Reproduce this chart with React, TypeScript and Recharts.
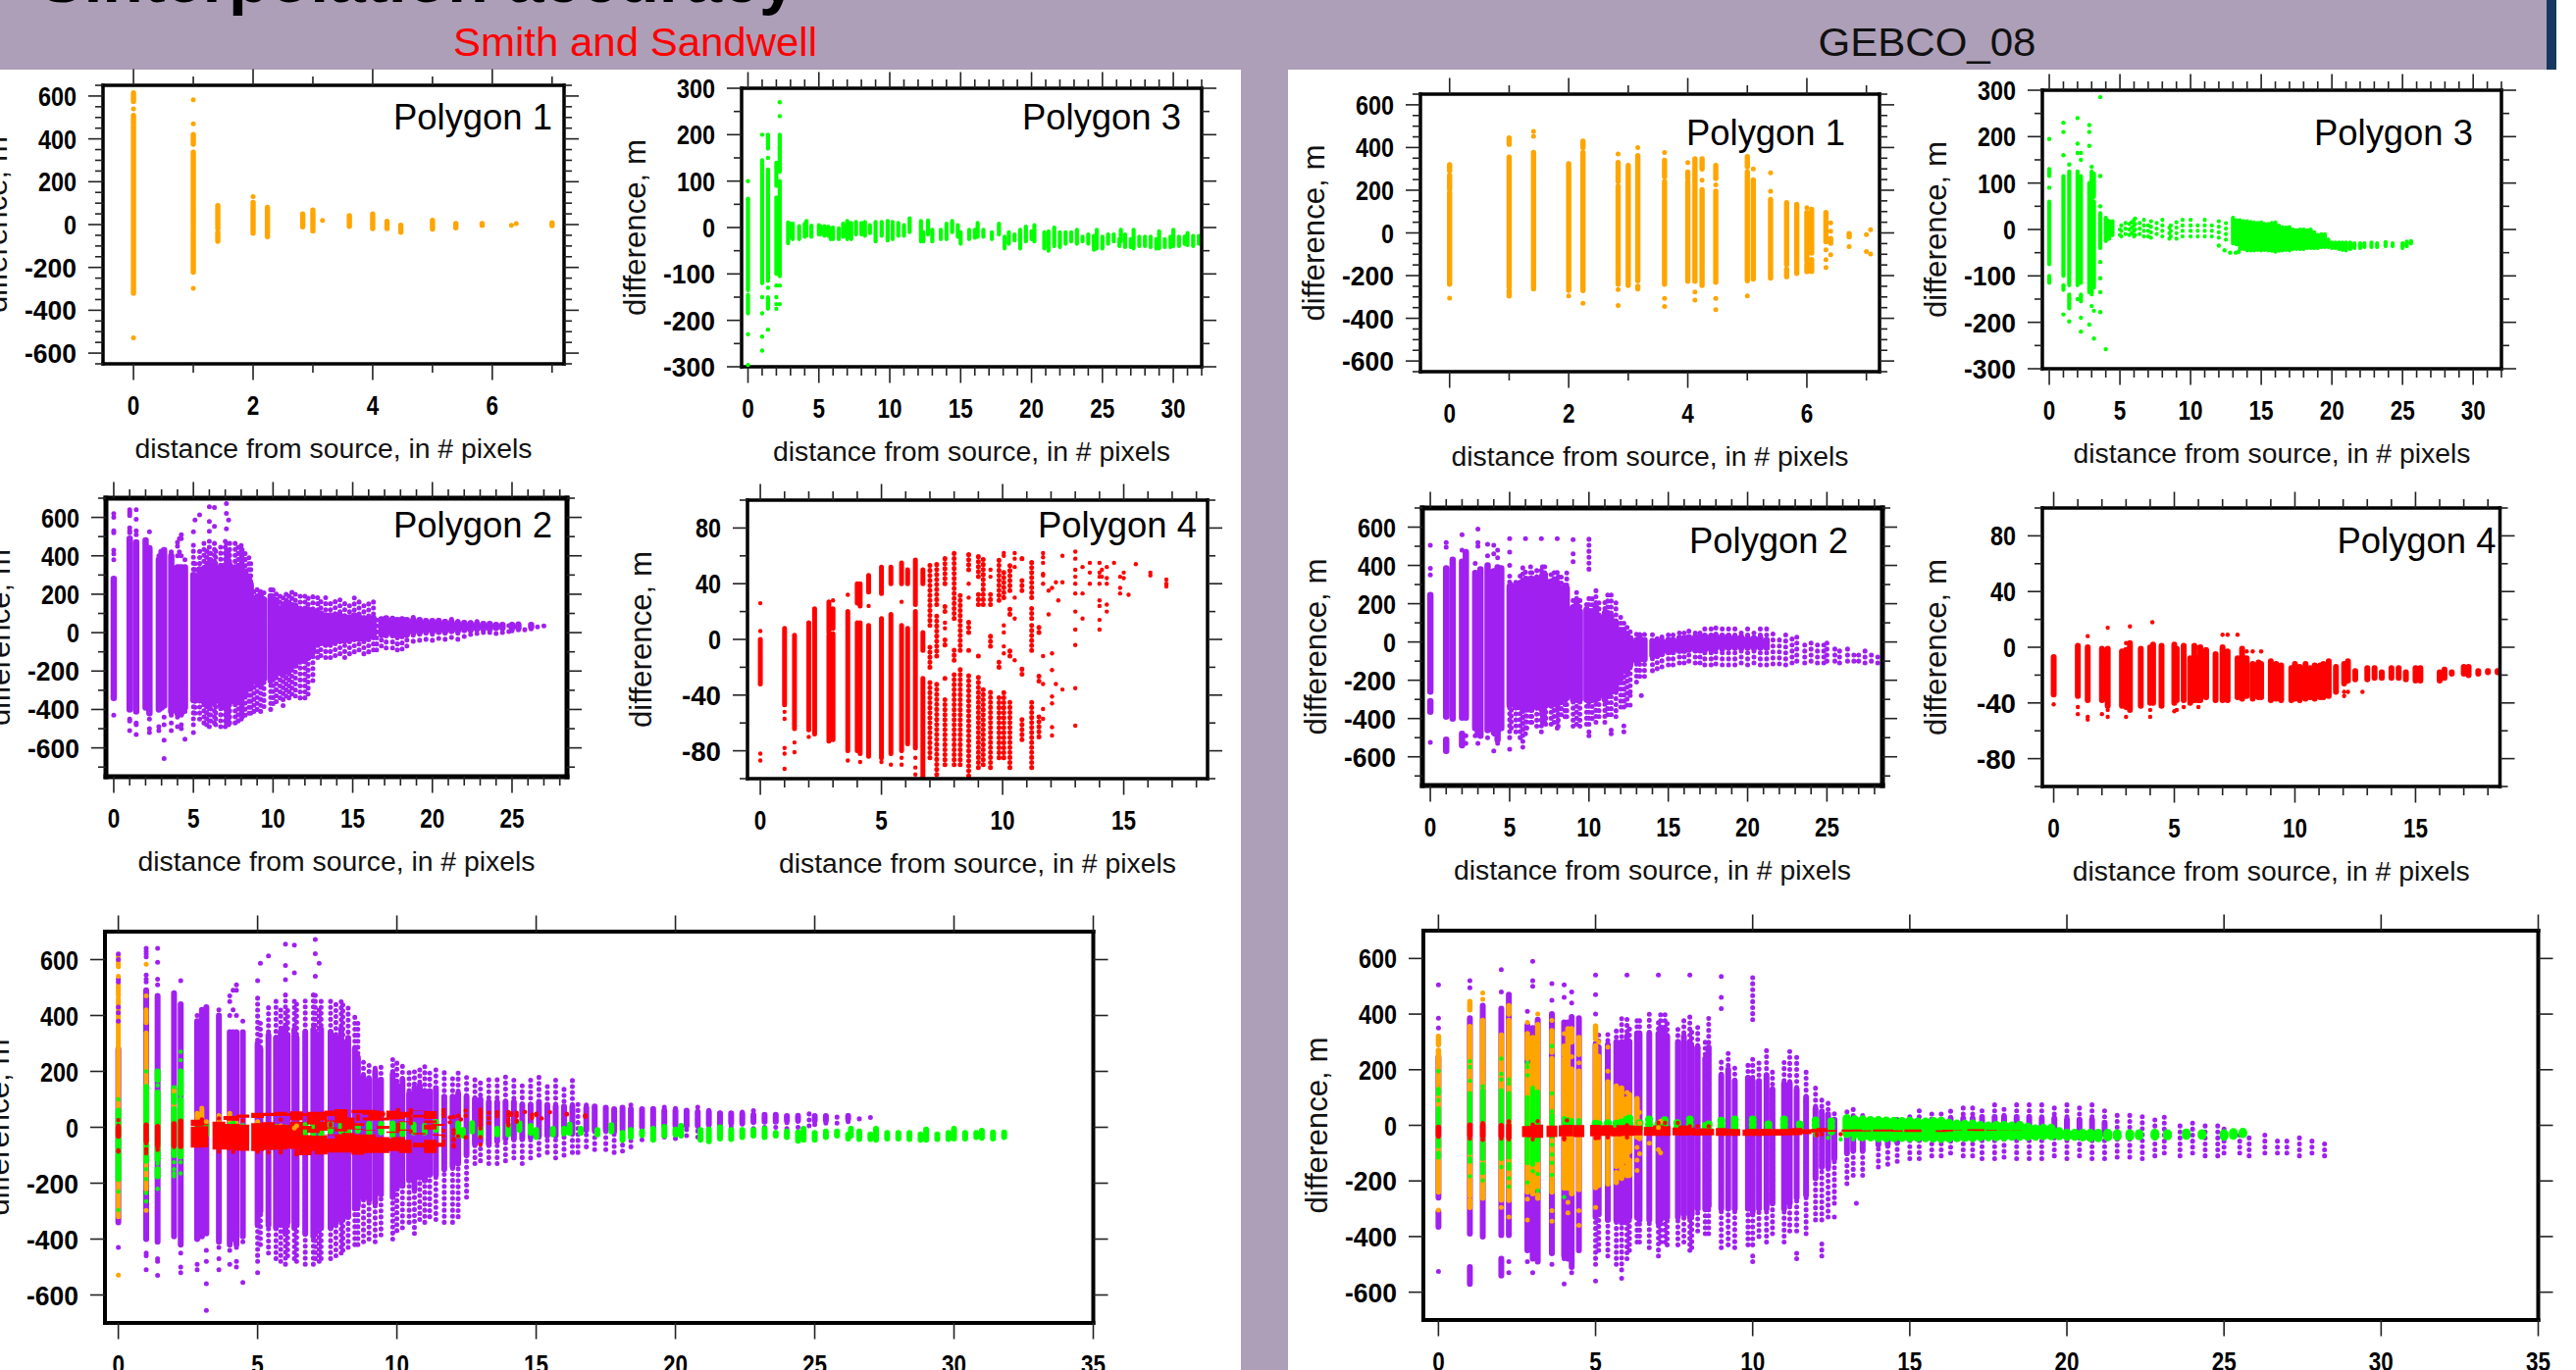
import React from 'react';
import { ComposedChart, Line, Scatter, XAxis, YAxis } from 'recharts';

type Stripe = [number, number, number];
type Pts = [number, number[]];

const PURPLE = '#A020F0', ORANGE = '#FFA500', GREEN = '#00FF00', RED = '#FF0000';
const FONT = '"Liberation Sans", Arial, sans-serif';

const xTicks7 = [0, 1, 2, 3, 4, 5, 6, 7];
const xTicks18 = [0, 1, 2, 3, 4, 5, 6, 7, 8, 9, 10, 11, 12, 13, 14, 15, 16, 17, 18];
const xTicks28 = [0, 1, 2, 3, 4, 5, 6, 7, 8, 9, 10, 11, 12, 13, 14, 15, 16, 17, 18, 19, 20, 21, 22, 23, 24, 25, 26, 27, 28];
const xTicks32 = [0, 1, 2, 3, 4, 5, 6, 7, 8, 9, 10, 11, 12, 13, 14, 15, 16, 17, 18, 19, 20, 21, 22, 23, 24, 25, 26, 27, 28, 29, 30, 31, 32];
const xTicks35 = [0, 5, 10, 15, 20, 25, 30, 35];
const yTicks650 = [-650, -600, -550, -500, -450, -400, -350, -300, -250, -200, -150, -100, -50, 0, 50, 100, 150, 200, 250, 300, 350, 400, 450, 500, 550, 600, 650];
const yTicks300 = [-300, -250, -200, -150, -100, -50, 0, 50, 100, 150, 200, 250, 300];
const yTicks700 = [-700, -600, -500, -400, -300, -200, -100, 0, 100, 200, 300, 400, 500, 600, 700];
const yTicks100 = [-100, -80, -60, -40, -20, 0, 20, 40, 60, 80, 100];
const yTicksBig = [-600, -400, -200, 0, 200, 400, 600];

// ---- Smith and Sandwell ----
const ssP1Stripes: Stripe[] = [
  [0, -320, 460], [0, 470, 510], [0, 575, 615], [1, -222, 338], [1, 375, 420], [1.41, -18, 88], [1.41, -78, -36],
  [2, -40, 103], [2.24, -56, 80], [2.83, -10, 50], [3, -30, 68], [3.61, -8, 42], [4, -18, 50], [4.24, -18, 15],
  [4.47, -36, -3], [5, -21, 20], [5.39, -15, 5], [5.83, -3, 5], [7, -5, 8],
];
const ssP1Pts: Pts[] = [[0, [-529, 540]], [1, [583, 470, -297]], [2, [130]], [3.16, [20]], [6.32, [-3]], [6.4, [5]]];

const ssP3Stripes: Stripe[] = [
  [0, -135, 60], [0, -185, -145], [1, -120, 145], [1.41, -115, 125], [1.41, -175, -150], [1.41, 170, 200], [2, -100, 65], [2, 90, 140], [2.24, -105, 100], [2.24, 120, 200],
  [2.83, -34, 11], [3, -20, 8], [3.16, -25, 8], [3.61, -25, 3], [4, -20, 8], [4.12, -18, 14], [4.47, -20, 4], [5, -15, 5], [5.1, -15, 3], [5.39, -18, 3], [5.66, -18, 2],
  [5.83, -25, -2], [6, -25, 0], [6.4, -25, -2], [6.71, -20, 8], [7, -25, 14], [7.28, -25, 10], [7.62, -15, 12], [8, -15, 10], [8.25, -18, 12], [8.6, -12, 5],
  [9, -30, 12], [9.43, -18, 12], [9.85, -28, 14], [10.2, -25, 12], [10.6, -18, 10], [11, -18, 5], [11.4, -10, 20], [12.2, -30, 14], [12.37, -30, -10], [12.7, -15, 15],
  [13, -30, -5], [13.6, -25, -5], [14, -25, 8], [14.4, -10, 14], [14.8, -20, 5], [15, -35, -10], [15.6, -25, -5], [16, -22, -5], [16.2, -20, 10], [16.6, -20, -5],
  [17.2, -25, -10], [17.7, -15, 8], [18.1, -45, -20], [18.4, -35, -10], [18.8, -28, -15], [19.2, -45, -5], [19.6, -30, 2], [20, -25, -8], [20.2, -30, 5], [20.9, -45, -10],
  [21.2, -50, -8], [21.6, -40, 0], [22, -42, -10], [22.4, -35, -10], [22.8, -30, -10], [23.2, -35, -5], [23.6, -30, -20], [24, -35, -15], [24.4, -48, -18], [24.6, -45, -5],
  [25, -45, -20], [25.4, -35, -15], [25.8, -30, -15], [26.2, -40, -25], [26.3, -30, -5], [26.6, -42, -15], [27, -42, -25], [27.2, -45, -5], [27.6, -40, -20], [28, -40, -20],
  [28.4, -42, -20], [28.8, -45, -25], [29, -45, -8], [29.4, -42, -25], [29.8, -42, -20], [30, -40, -5], [30.4, -40, -20], [30.8, -35, -20], [31, -38, -12], [31.4, -40, -18], [31.8, -35, -18],
];
const ssP3Pts: Pts[] = [
  [0, [100, 62, -230, -296]], [1, [200, -150, -185, -235, -265]], [1.41, [150, -130, -220]], [2, [-125, -150, -175, -165]], [2.24, [240, 270, -125, -165]],
];

const ssP2Stripes: Stripe[] = [
  [0, -340, 280], [1, -400, 490], [1.41, -410, 470], [2, -390, 480], [2.24, -420, 440], [2.83, -400, 380], [3, -390, 420], [3.16, -380, 430], [3.61, -410, 400],
  [4, -420, 340], [4.12, -400, 340], [4.24, -420, 340], [4.47, -390, 340], [5, -480, 470], [5.1, -420, 380], [5.39, -450, 440], [5.66, -470, 470], [5.83, -480, 440],
  [6, -490, 480], [6.08, -460, 430], [6.32, -470, 470], [6.4, -480, 450], [6.71, -490, 470], [7, -490, 480], [7.07, -470, 480], [7.21, -480, 440], [7.28, -470, 470],
  [7.62, -470, 470], [7.81, -460, 460], [8, -450, 470], [8.06, -440, 450], [8.25, -430, 440], [8.49, -420, 410], [8.6, -420, 380], [8.8, -410, 240], [9, -400, 230],
  [9.22, -410, 230], [9.43, -385, 225], [9.85, -400, 250], [10, -370, 230], [10.2, -360, 230], [10.44, -340, 210], [10.63, -380, 200], [10.82, -330, 225], [11, -340, 220],
  [11.18, -320, 210], [11.4, -330, 225], [11.7, -340, 210], [12, -340, 190], [12.2, -320, 200], [12.5, -250, 190], [12.8, -130, 190], [13, -120, 170], [13.3, -130, 185],
  [13.6, -130, 170], [13.9, -120, 180], [14.2, -110, 180], [14.5, -130, 165], [14.8, -110, 170], [15.1, -100, 185], [15.4, -90, 160], [15.7, -110, 170], [16, -100, 155],
  [16.3, -90, 170], [16.5, -90, 95], [16.8, -70, 85], [17.1, -80, 85], [17.5, -80, 85], [17.8, -90, 80], [18.1, -85, 85], [18.4, -70, 80], [18.8, -45, 80], [19.2, -40, 80],
  [19.6, -35, 75], [20, -40, 80], [20.4, -30, 75], [20.8, -35, 75], [21.2, -25, 70], [21.6, -35, 65], [22, -20, 65], [22.4, -10, 60], [22.8, -5, 60], [23.2, 0, 55],
  [23.6, 0, 55], [24, -5, 50], [24.4, 0, 50], [24.8, 5, 50], [25, 10, 45], [25.4, 15, 55], [25.8, 15, 45], [26.2, 20, 45], [26.6, 30, 45], [27, 35, 45],
];
const ssP2Core: Stripe[] = [
  [5, -350, 300], [5.1, -300, 280], [5.39, -350, 330], [5.66, -360, 320], [5.83, -340, 340], [6, -380, 360], [6.08, -340, 330], [6.32, -360, 350], [6.4, -350, 320], [6.71, -380, 340],
  [7, -390, 350], [7.07, -380, 330], [7.21, -350, 330], [7.28, -360, 350], [7.62, -360, 340], [7.81, -340, 320], [8, -330, 350], [8.06, -330, 300], [8.25, -320, 320], [8.49, -290, 280],
  [8.6, -280, 250], [8.8, -250, 180], [9, -260, 170], [9.22, -270, 200], [9.43, -240, 170], [9.85, -250, 190], [10, -220, 150], [10.2, -210, 170], [10.44, -190, 120], [10.63, -220, 140],
  [10.82, -180, 150], [11, -190, 130], [11.18, -170, 130], [11.4, -170, 140], [11.7, -150, 110], [12, -140, 110], [12.2, -130, 120], [12.5, -100, 110], [12.8, -60, 100], [13, -50, 100],
  [13.3, -60, 90], [13.6, -50, 90], [13.9, -40, 90], [14.2, -40, 90], [14.5, -40, 80], [14.8, -35, 80], [15.1, -30, 90], [15.4, -30, 80], [15.7, -30, 75], [16, -20, 75], [16.3, -20, 75],
  [16.8, -10, 70], [17.1, -10, 75], [17.5, -10, 70], [17.8, -15, 65], [18.1, -10, 70], [18.4, -10, 65], [18.8, 0, 65], [19.2, 0, 65], [19.6, 5, 60], [20, 5, 60], [20.4, 5, 60], [20.8, 5, 55],
  [21.2, 10, 55], [21.6, 10, 50], [22, 15, 50], [22.4, 15, 48], [22.8, 20, 45], [23.2, 20, 45], [23.6, 20, 45], [24, 25, 40], [24.4, 25, 40], [25, 25, 40], [25.4, 25, 40], [26.2, 30, 40],
];
const ssP2Pts: Pts[] = [
  [0, [620, 600, 530, 520, 430, 410, 380, -430]], [1, [640, 630, 620, 610, 545, 530, 520, -460, -450, -510]], [1.41, [640, 590, 530, 510, -470, -480, -530]],
  [2.24, [525, -450, -500, -520]], [2.83, [400, -490, -510]], [3.16, [-440, -480, -560, -655]], [3.61, [420, -430, -470, -510]], [4, [450, 470, 400, -440, -490]],
  [4.12, [490, 420]], [4.24, [510, 490, 400, -430, -480, -500]], [4.47, [380, -410, -555]], [5, [525, -520]], [5.1, [587]], [5.39, [613]], [6, [579, 655, 528]],
  [6.32, [652, 553]], [7.07, [672, 621, 540]], [7.21, [587]],
];

const ssP4Stripes: Stripe[] = [
  [0, -32, 0], [1, -47, 8], [1.41, -64, 3], [2, -65, 12], [2.24, -68, 22], [2.83, -73, 3], [2.83, 5, 27], [3, -72, 4], [3, 8, 22], [3.61, -80, 20], [4, -80, 12], [4, 26, 40],
  [4.12, -82, 12], [4.12, 24, 40], [4.47, -84, 10], [4.47, 34, 46], [5, -85, 15], [5, 33, 52], [5.39, -82, 18], [5.39, 40, 52], [5.83, -80, 10], [5.83, 40, 55], [6.08, -75, 8],
  [6.08, 40, 50], [6.4, -78, 20], [6.4, 25, 57], [6.71, -100, -28], [6.71, -8, 5], [6.71, 40, 50], [7, -85, -30], [7, -20, -5], [7, 10, 55], [7.28, -97, -30], [7.28, -12, 20],
  [7.28, 25, 55], [7.62, -90, -40], [7.62, -28, -25], [7.62, -4, 0], [7.62, 20, 25], [7.62, 40, 60], [8, -90, -25], [8, -15, -5], [8, 15, 65], [8.25, -90, -20], [8.25, -8, 35],
  [8.6, -98, -25], [8.6, -8, -5], [8.6, 5, 15], [8.6, 50, 62], [9, -92, -25], [9, -12, -10], [9, 25, 35], [9, 45, 62], [9.2, -90, -35], [9.2, 25, 60], [9.5, -92, -35], [9.5, -5, 5],
  [9.5, 25, 35], [9.85, -85, -40], [9.85, -20, -15], [9.85, 28, 60], [10.05, -85, -35], [10.05, 30, 50], [10.3, -92, -45], [10.3, -12, -8], [10.3, 18, 22], [10.3, 35, 55],
  [10.8, -72, -55], [10.8, -25, -20], [10.8, 35, 45], [10.8, 58, 60], [11.2, -92, -45], [11.2, -8, 10], [11.2, 15, 25], [11.2, 30, 58], [11.5, -70, -55], [11.5, -30, -25], [11.5, 5, 12],
];
const ssP4Pts: Pts[] = [
  [0, [6, 26, -82, -87]], [1, [-52, -57, -78, -82, -93]], [1.41, [-74, -81]], [2, [-70]], [3, [28]], [3.61, [32, -87]], [4.12, [-88]], [4.47, [24]], [5, [-88]], [5.39, [-90]],
  [5.83, [27, -90, -85]], [6.4, [-85, -92, -97]], [7.62, [8, 12]], [8.6, [30, 40]], [9.5, [50, 45]], [10.05, [-10, -5, 5, 10, 60, 62]], [10.5, [62, 58, 52, 30, 15, -15]],
  [11.67, [62, 59, 55, 47, 46, 40, -12, -32, -50, -57]], [11.9, [35, 18]], [12.04, [37, -10, -22, -41, -46, -63, -69]], [12.2, [-32, 41]], [12.3, [28]], [12.47, [60, -36, 41]],
  [13, [63, 58, 50, 45, 40, 33, 20, 7, -4, -35, -62]], [13.3, [52, 33, 15]], [13.6, [55, 48, 40]], [14, [55, 48, 45, 40, 28, 24, 14, 7]], [14.1, [50, 45]], [14.3, [52, 44, 40, 25, 20]],
  [14.6, [55]], [14.85, [45, 37, 33]], [15, [48, 44]], [15.2, [32]], [15.5, [54]], [16.1, [48, 46]], [16.76, [43, 40, 38]],
];

// ---- GEBCO_08 ----
const gbP1Stripes: Stripe[] = [
  [0, -240, 190], [0, 205, 270], [0, 290, 320], [1, -254, 355], [1, -295, -270], [1, 415, 445], [1.41, -262, 377], [2, -269, 324], [2.24, -270, 377], [2.24, 400, 430],
  [2.83, -240, 218], [2.83, 240, 330], [3, -246, 316], [3.16, -224, 362], [3.16, -262, -250], [3.61, -240, 240], [3.61, 263, 340], [4, -226, 240], [4, 255, 285], [4.12, -226, 232],
  [4.12, 232, 347], [4.24, -178, 202], [4.24, -246, -185], [4.24, 300, 347], [4.47, -231, 195], [4.47, 255, 316], [5, -224, 286], [5, 310, 357], [5.1, -216, 248], [5.39, -211, 156],
  [5.66, -148, 141], [5.66, -205, -170], [5.83, -190, 134], [6, -132, 96], [6, -181, -148], [6.08, -94, 110], [6.08, -180, -125], [6.32, -41, 96], [6.4, -48, -26], [6.71, -18, -3],
];
const gbP1Pts: Pts[] = [
  [0, [-305]], [1.41, [476, 453]], [2, [-295]], [2.24, [-330]], [2.83, [370, -265, -340]], [3.16, [400]], [3.61, [377, -307, -345]], [4, [330]], [4.12, [-277, -315]], [4.24, [247]],
  [4.47, [225, -307, -360]], [5, [-295]], [5.1, [300]], [5.39, [281, 195]], [6, [118]], [6.32, [-79, -125, -162]], [6.4, [47, 8, -102]], [6.71, [-64]], [7, [-8, -87]], [7.07, [15, -99]],
];

const gbP3Stripes: Stripe[] = [
  [0, -75, 60], [0, -115, -100], [0, 115, 130], [1, -100, 115], [1, -130, -120], [1.41, -120, 125], [1.41, -170, -140], [2, -120, 125], [2.24, -115, 115], [2.24, -155, -140], [2.83, -135, 100],
  [3, -140, 125], [3.16, -125, 60], [3.16, 70, 120], [3.61, -40, 35], [4, -25, 25], [4.12, -15, 20], [4.24, -20, 18], [4.47, -12, 18], [5, -12, 8], [5.1, -15, 20], [5.39, -10, 25], [5.66, -12, 20], [5.83, -8, 22],
  [6, -15, 28], [6.08, -12, 33], [6.4, -10, 22], [6.7, -15, 25], [7, -15, 20], [7.2, -18, 25], [7.6, -10, 22], [8, -15, 22], [8.5, -20, 15], [8.6, -15, 18], [9, -20, 18], [9.43, -15, 22], [10, -15, 28],
  [10.5, -15, 20], [11, -15, 22], [11.5, -15, 15], [12, -18, 18], [12.5, -22, 15], [13, -30, 25], [13.25, -32, 20], [13.5, -42, 20], [13.75, -42, 18], [14, -45, 18], [14.25, -45, 16], [14.5, -45, 15], [14.75, -44, 14], [15, -45, 15], [15.25, -44, 12], [15.5, -45, 12], [15.75, -46, 14], [16, -48, 15],
  [16.25, -46, 8], [16.5, -45, 5], [16.75, -44, 4], [17, -45, 5], [17.25, -42, 0], [17.5, -42, -2], [17.75, -42, 0], [18, -42, 0], [18.25, -40, -2], [18.5, -40, 0], [18.75, -40, -6], [19, -40, -12], [19.25, -38, -10], [19.5, -38, -10], [19.75, -38, -22], [20, -40, -28], [20.25, -40, -28], [20.5, -42, -28], [20.75, -44, -28], [21, -45, -28], [21.3, -42, -28], [21.6, -40, -30], [22, -40, -30],
  [22.3, -38, -30], [22.8, -38, -28], [23.2, -38, -30], [23.8, -36, -27], [24.3, -36, -30], [25, -40, -30], [25.3, -36, -26], [25.6, -30, -25],
];
const gbP3Pts: Pts[] = [
  [0, [90, 195]], [1, [160, 210, 230, -183]], [1.41, [140, -198]], [2, [165, 185, 240, -150]], [2.24, [165, 150, -190, -220]], [2.83, [180, 210, 225, -205]], [3, [135, -165]], [3.16, [-175, -235]],
  [3.61, [50, 115, -70, -105, -135, -178, 285]], [4, [-258]], [12, [-35]], [12.4, [-45]], [12.8, [-50]], [13.2, [-50]], [13.4, [-48]],
];

const gbP2Stripes: Stripe[] = [
  [0, -260, 245], [0, -365, -310], [1, -390, 385], [1, -570, -510], [1.41, -400, 430], [2, -395, 420], [2, -540, -480], [2.24, -395, 470], [2.83, -450, 360], [3, -480, 350], [3.16, -490, 380],
  [3.61, -460, 400], [4, -470, 370], [4.12, -480, 370], [4.24, -510, 390], [4.47, -450, 385], [5, -500, 350], [5.1, -450, 330], [5.39, -470, 340], [5.66, -500, 360], [5.83, -520, 390],
  [6, -480, 390], [6.08, -450, 360], [6.32, -420, 395], [6.4, -420, 380], [6.71, -440, 400], [7, -470, 390], [7.07, -420, 400], [7.21, -420, 400], [7.28, -430, 370], [7.62, -430, 360], [7.81, -420, 380],
  [8, -450, 390], [8.06, -440, 350], [8.25, -380, 360], [8.49, -390, 300], [8.6, -390, 390], [9, -440, 240], [9.22, -430, 270], [9.43, -440, 220], [9.85, -430, 225], [10, -430, 250], [10, 380, 540],
  [10.2, -400, 240], [10.44, -420, 270], [10.63, -390, 210], [11, -420, 230], [11.18, -380, 275], [11.4, -380, 250], [11.7, -390, 210], [12, -340, 150], [12.2, -340, 100], [12.2, -470, -420],
  [12.4, -330, 100], [12.6, -260, 60], [13, -210, 55], [13.2, -180, 70], [13.5, -180, 50], [14, -150, 40], [14.3, -140, 30], [14.6, -130, 40], [15, -120, 45], [15.3, -120, 55], [15.7, -110, 60],
  [16, -110, 60], [16.3, -100, 65], [16.7, -110, 65], [17, -110, 70], [17.3, -120, 70], [17.7, -120, 75], [18, -115, 75], [18.4, -120, 75], [18.8, -120, 75], [19.2, -120, 75], [19.6, -110, 75],
  [20, -120, 75], [20.4, -110, 75], [20.8, -120, 75], [21.2, -120, 70], [21.6, -115, 50], [22, -115, 40], [22.4, -120, 40], [22.8, -110, 40], [23.1, -100, 35], [23.6, -110, 15], [24, -100, 10],
  [24.4, -110, 10], [24.8, -110, 5], [25, -100, -5], [25.5, -100, -20], [25.8, -110, -25], [26.3, -100, -30], [26.7, -100, -40], [27, -100, -40], [27.4, -110, -40], [27.8, -100, -50], [28.2, -110, -50],
];
const gbP2Core: Stripe[] = [
  [5, -330, 290], [5.1, -320, 280], [5.39, -340, 290], [5.66, -340, 300], [5.83, -350, 300], [6, -350, 320], [6.08, -330, 300], [6.32, -330, 330], [6.4, -340, 330], [6.71, -340, 330], [7, -350, 330],
  [7.07, -340, 350], [7.21, -330, 340], [7.28, -330, 320], [7.62, -330, 300], [7.81, -320, 320], [8, -330, 300], [8.06, -320, 280], [8.25, -300, 280], [8.49, -300, 240], [8.6, -290, 280], [9, -300, 180],
  [9.22, -300, 200], [9.43, -300, 160], [9.85, -300, 170], [10, -310, 160], [10.2, -300, 160], [10.44, -300, 180], [10.63, -280, 130], [11, -300, 150], [11.18, -280, 150], [11.4, -260, 130], [11.7, -250, 100],
  [12, -190, 60], [12.2, -150, 50], [12.4, -150, 40], [12.6, -120, 20], [13, -100, 10], [13.2, -90, 20], [13.5, -90, 10], [14, -70, 5], [14.3, -70, 5], [14.6, -60, 5], [15, -50, 10], [15.3, -50, 10],
  [15.7, -45, 20], [16, -45, 20], [16.3, -40, 25], [16.7, -40, 25], [17, -40, 25], [17.3, -40, 30], [17.7, -40, 30], [18, -30, 30], [18.4, -35, 30], [18.8, -30, 30], [19.2, -30, 25], [19.6, -30, 25],
  [20, -30, 20], [20.4, -30, 20], [20.8, -30, 20], [21.2, -30, 10],
];
const gbP2Pts: Pts[] = [
  [0, [350, 385, 505, -525]], [1, [495, 520]], [2, [480, 560]], [2.24, [-490, -530]], [2.83, [410, -490]], [3, [500, 520, 590, -530]], [3.61, [450, 510, -500]], [4, [460, 505, -480, -570]],
  [4.24, [440, 480, -530]], [5, [400, 470, 540, -560]], [5.83, [-550]], [6, [540]], [7, [540]], [8, [540]], [9, [535, 460, 420]], [13.3, [-280]], [12.6, [-280, -330]], [11.4, [-460, -480]], [10, [-470, -490]],
];

const gbP4Stripes: Stripe[] = [
  [0, -34, -7], [1, -35, 1], [1.41, -38, 0], [2, -38, -1], [2.24, -42, -1], [2.83, -42, -3], [3, -43, -2], [3.16, -45, 3], [3.61, -42, -1], [4, -40, 0], [4.12, -40, 2], [4.47, -42, 1], [5, -40, 2], [5.1, -38, -1],
  [5.39, -38, 1], [5.66, -40, -8], [5.83, -38, 1], [6, -38, -8], [6.08, -38, 0], [6.32, -36, -2], [6.71, -38, -5], [7, -38, 0], [7.21, -38, -3], [7.62, -36, -8], [7.81, -37, -1], [8, -35, -8], [8.25, -37, -12],
  [8.49, -36, -11], [8.6, -36, -12], [9, -38, -10], [9.22, -37, -12], [9.43, -38, -13], [9.85, -38, -15], [10, -37, -12], [10.2, -38, -14], [10.44, -37, -12], [10.63, -36, -15], [10.82, -37, -13],
  [11.05, -36, -13], [11.18, -36, -12], [11.4, -35, -10], [11.7, -32, -14], [12.04, -26, -12], [12.2, -24, -10], [12.5, -23, -17], [13, -23, -15], [13.3, -22, -15], [13.6, -22, -18], [14, -22, -15],
  [14.3, -22, -15], [14.6, -23, -18], [15, -24, -15], [15.2, -24, -15], [16, -24, -18], [16.2, -22, -16], [16.5, -19, -18], [17, -19, -14], [17.2, -20, -14], [17.6, -19, -17], [18, -18, -17], [18.4, -18, -17],
];
const gbP4Pts: Pts[] = [
  [0, [-41]], [1, [-43, -48]], [1.41, [8, -50, -52]], [2, [-48]], [2.24, [14, -45, -50]], [3, [3, -50]], [3.16, [15]], [4, [-45, -50]], [4.09, [18]], [5, [-46]], [5.1, [-45]], [5.39, [-43]], [6, [0, -43]],
  [7, [9]], [7.21, [9]], [7.62, [9]], [8, [-3]], [8.25, [-3]], [8.6, [-3]], [12.04, [-32, -35]], [12.2, [-32]], [12.8, [-32]],
];

type Series = { color: string; dotted: Stripe[]; solid: Stripe[]; pts: Pts[]; w: number; dw: number; gap: number; r: number; cap?: 'round' | 'butt' };
const segs = (s: Stripe[]) => s.flatMap(([x, lo, hi]) => [{ x, y: lo }, { x, y: hi }, { x, y: null }]);
const dots = (p: Pts[]) => p.flatMap(([x, ys]) => ys.map((y) => ({ x, y })));
const below = (s: Stripe[], v: number) => s.filter((d) => d[0] < v);
const above = (s: Stripe[], v: number) => s.filter((d) => d[0] >= v);
const between = (s: Stripe[], a: number, b: number) => s.filter((d) => d[0] >= a && d[0] < b);
const outside = (s: Stripe[], a: number, b: number) => s.filter((d) => d[0] < a || d[0] >= b);

const TICK = '#222';

function Panel(props: any) {
  const { l, t, r, b, xDomain, yDomain, xTicks, yTicks, xMajor, yMajor, series, title, titleX, titleB, showXTitle = true, bw = 3.5, digit = 13, yFont = 28, xStep = 12.5 } = props;
  const LEFT = 130, TOP = 30, RIGHT = 30, BOTTOM = 110;
  const W = r - l, H = b - t;
  const xTick = (side: 'b' | 't') => (p: any) => {
    const v = p.payload.value;
    const maj = v % xMajor === 0;
    const len = maj ? 16.5 : 9;
    const s = String(v);
    return (
      <g>
        <line x1={p.x} x2={p.x} y1={p.y} y2={p.y + (side === 'b' ? len : -len)} stroke={TICK} strokeWidth={1.6} />
        {side === 'b' && maj && (
          <text x={p.x} y={p.y + 52} textAnchor="middle" fontFamily={FONT} fontWeight={700} fontSize={yFont} fill="#000" textLength={s.length * xStep} lengthAdjust="spacingAndGlyphs">{s}</text>
        )}
      </g>
    );
  };
  const yTick = (side: 'l' | 'r') => (p: any) => {
    const v = p.payload.value;
    const maj = v % yMajor === 0;
    const len = maj ? 15 : 8;
    const s = String(v);
    return (
      <g>
        <line y1={p.y} y2={p.y} x1={p.x} x2={p.x + (side === 'l' ? -len : len)} stroke={TICK} strokeWidth={1.6} />
        {side === 'l' && maj && (
          <text x={p.x - 27} y={p.y + 10} textAnchor="end" fontFamily={FONT} fontWeight={700} fontSize={yFont} fill="#000" textLength={s.replace('-', '').length * digit + (v < 0 ? 14 : 0)} lengthAdjust="spacingAndGlyphs">{s}</text>
        )}
      </g>
    );
  };
  const axisLine = { stroke: '#000', strokeWidth: bw, strokeLinecap: 'square' as const };
  return (
    <div style={{ position: 'absolute', left: l - LEFT, top: t - TOP, width: W + LEFT + RIGHT, height: H + TOP + BOTTOM }}>
      <ComposedChart width={W + LEFT + RIGHT} height={H + TOP + BOTTOM} margin={{ left: 0, right: 0, top: 0, bottom: 0 }} style={{ overflow: 'visible' }}>
        <XAxis xAxisId="b" orientation="bottom" type="number" dataKey="x" domain={xDomain} allowDataOverflow ticks={xTicks} interval={0} height={BOTTOM} tickSize={0} tickMargin={0} tickLine={false} axisLine={axisLine} tick={xTick('b')} />
        <XAxis xAxisId="t" orientation="top" type="number" dataKey="x" domain={xDomain} allowDataOverflow ticks={xTicks} interval={0} height={TOP} tickSize={0} tickMargin={0} tickLine={false} axisLine={axisLine} tick={xTick('t')} />
        <YAxis yAxisId="l" orientation="left" type="number" dataKey="y" domain={yDomain} allowDataOverflow ticks={yTicks} interval={0} width={LEFT} tickSize={0} tickMargin={0} tickLine={false} axisLine={axisLine} tick={yTick('l')} />
        <YAxis yAxisId="r" orientation="right" type="number" dataKey="y" domain={yDomain} allowDataOverflow ticks={yTicks} interval={0} width={RIGHT} tickSize={0} tickMargin={0} tickLine={false} axisLine={axisLine} tick={yTick('r')} />
        {(series as Series[]).flatMap((s, i) => [
          <Line key={'d' + i} xAxisId="b" yAxisId="l" data={segs(s.dotted)} dataKey="y" stroke={s.color} strokeWidth={s.dw} strokeLinecap="round" strokeDasharray={`0.1 ${s.gap}`} dot={false} activeDot={false} connectNulls={false} isAnimationActive={false} legendType="none" />,
          <Line key={'l' + i} xAxisId="b" yAxisId="l" data={segs(s.solid)} dataKey="y" stroke={s.color} strokeWidth={s.w} strokeLinecap={s.cap || 'round'} dot={false} activeDot={false} connectNulls={false} isAnimationActive={false} legendType="none" />,
          <Scatter key={'s' + i} xAxisId="b" yAxisId="l" data={dots(s.pts)} fill={s.color} isAnimationActive={false} shape={(p: any) => <circle cx={p.cx} cy={p.cy} r={s.r} fill={s.color} />} />,
        ])}
      </ComposedChart>
      <svg width={W + LEFT + RIGHT} height={H + TOP + BOTTOM} style={{ position: 'absolute', left: 0, top: 0, overflow: 'visible', pointerEvents: 'none' }}>
        <text transform={`translate(${LEFT - 98},${TOP + H / 2}) rotate(-90)`} textAnchor="middle" fontFamily={FONT} fontSize={32} fill="#111" textLength={180} lengthAdjust="spacingAndGlyphs">difference, m</text>
        {showXTitle && (
          <text x={LEFT + W / 2} y={TOP + H + 96} textAnchor="middle" fontFamily={FONT} fontSize={27} fill="#111" textLength={405} lengthAdjust="spacingAndGlyphs">distance from source, in # pixels</text>
        )}
        {title && <text x={titleX - (l - LEFT)} y={titleB - (t - TOP)} fontFamily={FONT} fontSize={36} fill="#000" textLength={162} lengthAdjust="spacingAndGlyphs">{title}</text>}
      </svg>
    </div>
  );
}

const small = { w: 5.4, dw: 5, gap: 6, r: 2.5 };
const thin = { w: 4.2, dw: 4.2, gap: 5.5, r: 2.2 };
const sP1 = { color: ORANGE, solid: ssP1Stripes, dotted: [], pts: ssP1Pts, ...small };
const sP2 = { color: PURPLE, solid: [...below(ssP2Stripes, 5), ...ssP2Core], dotted: above(ssP2Stripes, 5), pts: ssP2Pts, ...small, w: 6.5 };
const sP3 = { color: GREEN, solid: ssP3Stripes, dotted: [], pts: ssP3Pts, ...thin };
const sP4 = { color: RED, solid: below(ssP4Stripes, 7), dotted: above(ssP4Stripes, 7), pts: ssP4Pts, ...thin, w: 5, dw: 5, gap: 5 };
const gP1 = { color: ORANGE, solid: gbP1Stripes, dotted: [], pts: gbP1Pts, ...small };
const gP2 = { color: PURPLE, solid: [...below(gbP2Stripes, 5), ...gbP2Core], dotted: above(gbP2Stripes, 5), pts: gbP2Pts, ...small, w: 6.5 };
const gP3 = { color: GREEN, solid: outside(gbP3Stripes, 5, 13), dotted: between(gbP3Stripes, 5, 13), pts: gbP3Pts, ...thin };
const gP4 = { color: RED, solid: gbP4Stripes, dotted: [], pts: gbP4Pts, ...thin, w: 6 };

// The combined panels stretch the x axis, so the same rows are drawn wider there.
const wideS = [
  { ...sP2, w: 6, dw: 5 },
  { ...sP1, w: 5 },
  { ...sP3, w: 6, dw: 6 },
  { ...sP4, solid: below(ssP4Stripes, 2.8), dotted: [], w: 5.5 },
  { ...sP4, solid: above(ssP4Stripes, 2.8), dotted: [], pts: [], w: 13, cap: 'butt' as const },
];
const wideG = [
  { ...gP2, w: 6, dw: 5 },
  { ...gP1, w: 5.5 },
  { ...gP3, solid: below(gbP3Stripes, 5), dotted: [], w: 5 },
  { ...gP3, solid: above(gbP3Stripes, 13), dotted: between(gbP3Stripes, 5, 13), pts: [], w: 9, dw: 8, gap: 5 },
  { ...gP4, solid: below(gbP4Stripes, 2.8), w: 5.5 },
  { ...gP4, solid: above(gbP4Stripes, 2.8), pts: [], w: 11, cap: 'butt' as const },
];

export default function App() {
  return (
    <div style={{ position: 'relative', width: 2626, height: 1397, overflow: 'hidden', background: '#fff' }}>
      <style>{'html,body{margin:0;padding:0;overflow:hidden;background:#fff}'}</style>
      <div style={{ position: 'absolute', left: 0, top: 0, width: 2596, height: 71, background: '#AD9FB8' }} />
      <div style={{ position: 'absolute', left: 2596, top: 0, width: 10, height: 71, background: '#17375E' }} />
      <div style={{ position: 'absolute', left: 1265, top: 71, width: 48, height: 1326, background: '#AD9FB8' }} />

      <Panel l={105} r={575} t={87} b={371} xDomain={[-0.51, 7.2]} yDomain={[-650, 650]} xTicks={xTicks7} yTicks={yTicks650} xMajor={2} yMajor={200} series={[sP1]} title="Polygon 1" titleX={401} titleB={132} />
      <Panel l={756} r={1225} t={90} b={374} xDomain={[-0.45, 32]} yDomain={[-300, 300]} xTicks={xTicks32} yTicks={yTicks300} xMajor={5} yMajor={100} series={[sP3]} title="Polygon 3" titleX={1042} titleB={132} />
      <Panel l={108} r={578} t={508} b={792} xDomain={[-0.49, 28.45]} yDomain={[-750, 700]} xTicks={xTicks28} yTicks={yTicks700} xMajor={5} yMajor={200} series={[sP2]} bw={5} title="Polygon 2" titleX={401} titleB={548} />
      <Panel l={762} r={1231} t={510} b={794} xDomain={[-0.53, 18.46]} yDomain={[-100, 100]} xTicks={xTicks18} yTicks={yTicks100} xMajor={5} yMajor={40} series={[sP4]} title="Polygon 4" titleX={1058} titleB={548} />
      <Panel l={107} r={1114.5} t={950} b={1349} xDomain={[-0.48, 35]} yDomain={[-700, 700]} xTicks={xTicks35} yTicks={yTicksBig} xMajor={5} yMajor={200} series={wideS} showXTitle={false} bw={4} />

      <Panel l={1448} r={1916} t={96} b={379} xDomain={[-0.49, 7.22]} yDomain={[-650, 650]} xTicks={xTicks7} yTicks={yTicks650} xMajor={2} yMajor={200} series={[gP1]} title="Polygon 1" titleX={1719} titleB={148} />
      <Panel l={2082} r={2550} t={92} b={376} xDomain={[-0.49, 32]} yDomain={[-300, 300]} xTicks={xTicks32} yTicks={yTicks300} xMajor={5} yMajor={100} series={[gP3]} title="Polygon 3" titleX={2359} titleB={148} />
      <Panel l={1450} r={1919} t={518} b={801} xDomain={[-0.5, 28.5]} yDomain={[-750, 700]} xTicks={xTicks28} yTicks={yTicks700} xMajor={5} yMajor={200} series={[gP2]} bw={5} title="Polygon 2" titleX={1722} titleB={564} />
      <Panel l={2081.5} r={2548} t={518} b={802} xDomain={[-0.47, 18.5]} yDomain={[-100, 100]} xTicks={xTicks18} yTicks={yTicks100} xMajor={5} yMajor={40} series={[gP4]} title="Polygon 4" titleX={2382} titleB={564} />
      <Panel l={1450.5} r={2587} t={949} b={1346} xDomain={[-0.48, 35]} yDomain={[-700, 700]} xTicks={xTicks35} yTicks={yTicksBig} xMajor={5} yMajor={200} series={wideG} showXTitle={false} bw={4} />

      <svg width={2626} height={71} style={{ position: 'absolute', left: 0, top: 0 }}>
        <text x={40} y={2} fontFamily={FONT} fontWeight={700} fontSize={68} fill="#000" textLength={772} lengthAdjust="spacingAndGlyphs">Sinterpolation accuracy</text>
        <text x={462} y={57} fontFamily={FONT} fontSize={41} fill="#FF0000" textLength={371} lengthAdjust="spacingAndGlyphs">Smith and Sandwell</text>
        <text x={1853.5} y={57} fontFamily={FONT} fontSize={41} fill="#111" textLength={222} lengthAdjust="spacingAndGlyphs">GEBCO_08</text>
      </svg>
    </div>
  );
}
